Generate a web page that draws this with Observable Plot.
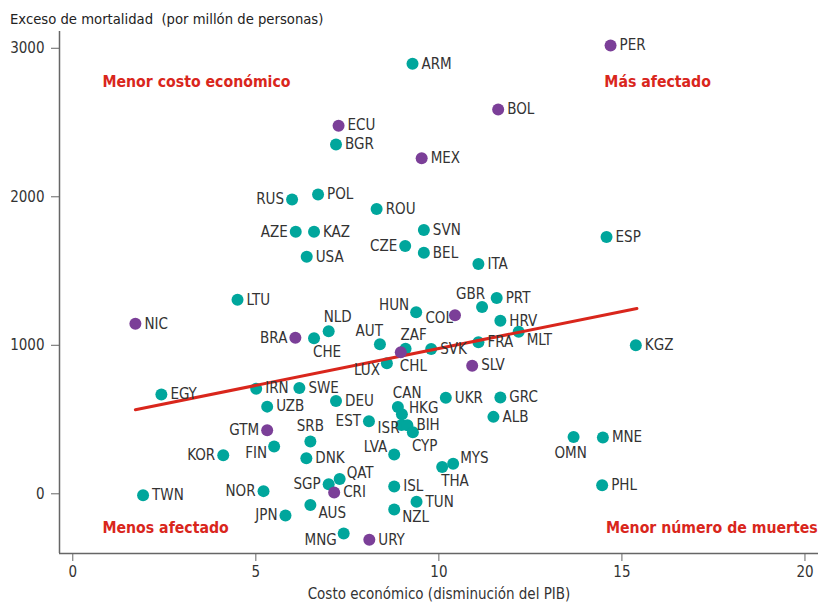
<!DOCTYPE html>
<html>
<head>
<meta charset="utf-8">
<script src="https://cdn.jsdelivr.net/npm/d3@7"></script>
<script src="https://cdn.jsdelivr.net/npm/@observablehq/plot@0.6"></script>
<style>
  html, body { margin: 0; padding: 0; background: #fff; }
  #title { height: 30px; box-sizing: border-box; padding: 11px 0 0 10px; line-height: 15px;
           font-family: "DejaVu Sans Condensed", "DejaVu Sans", sans-serif; font-size: 14.7px; color: #222; white-space: pre; }
</style>
</head>
<body>
<div id="title">Exceso de mortalidad  (por millón de personas)</div>
<div id="chart"></div>
<script>
const FONT = '"DejaVu Sans Condensed", "DejaVu Sans", sans-serif';

// Country codes
const codes = ["PER","ARM","BOL","ECU","BGR","MEX","POL","RUS","ROU","SVN","AZE","KAZ","ESP","CZE","BEL","USA","ITA","PRT","LTU","GBR","HUN","COL","HRV","NIC","NLD","MLT","BRA","CHE","FRA","AUT","KGZ","ZAF","SVK","CHL","LUX","SLV","SWE","IRN","EGY","GRC","UKR","DEU","UZB","CAN","HKG","ALB","EST","ISR","BIH","GTM","CYP","OMN","MNE","SRB","FIN","LVA","KOR","DNK","MYS","THA","QAT","SGP","PHL","ISL","NOR","CRI","TWN","TUN","AUS","NZL","JPN","MNG","URY"];
// Economic cost (GDP decline)
const costo = [14.69,9.28,11.62,7.26,7.19,9.53,6.70,5.99,8.30,9.59,6.09,6.59,14.58,9.08,9.59,6.39,11.08,11.58,4.50,11.18,9.38,10.44,11.68,1.71,6.99,12.18,6.08,6.59,11.08,8.39,15.38,9.09,9.79,8.96,8.58,10.91,6.19,5.01,2.42,11.68,10.19,7.19,5.31,8.88,8.99,11.49,8.09,8.98,9.14,5.31,9.29,13.68,14.48,6.49,5.50,8.78,4.11,6.38,10.39,10.09,7.29,6.99,14.46,8.78,5.21,7.14,1.92,9.39,6.49,8.78,5.81,7.40,8.10];
// Excess mortality per million
const exceso = [3019,2896,2587,2479,2352,2260,2015,1982,1917,1777,1764,1764,1730,1668,1623,1596,1547,1318,1307,1258,1222,1202,1165,1145,1094,1091,1051,1047,1020,1007,1000,977,975,953,879,863,713,708,668,648,646,625,587,585,536,518,488,464,462,428,415,383,379,352,318,264,260,240,202,181,99,65,58,49,18,8,-9,-54,-76,-106,-146,-267,-309];
// Group: Latin America (purple) vs others (teal)
const latam = ["PER","BOL","ECU","MEX","COL","NIC","BRA","CHL","SLV","GTM","CRI","URY"];
// Label placement code per country
const labelPlace = ["r","r","r","r","r","r","r","l","r","r","l","r","r","l","r","r","r","r","r","te","tl","lc","r","r","ts","br","l","bs","r","te","r","ts","r","bs","bl","r","r","r","r","r","r","r","r","ts","tr","r","l","lc","r","l","bs","bm","r","tm","bl","tl","l","r","tr","bs","tr","l","r","r","l","r","r","r","br","br","l","bl","r"];

// Trend line endpoints
const trendX = [1.71, 15.41];
const trendY = [566, 1248];

// Corner annotations
const annText = ["Menor costo económico","Más afectado","Menos afectado","Menor número de muertes"];
const annX = [0.81, 14.52, 0.81, 20.35];
const annY = [2776, 2776, -227, -227];
const annAnchor = ["start","start","start","end"];

const xTicks = [0,5,10,15,20];
const yTicks = [0,1000,2000,3000];
const xDomain = [-0.363, 20.37];
const yDomain = [-402, 3113];

const TEAL = "#00a69c", PURPLE = "#7b3f98", RED = "#d9261c", TXT = "#333";

const data = codes.map((c, i) => ({code: c, x: costo[i], y: exceso[i], grupo: latam.includes(c) ? "latam" : "otro", pos: labelPlace[i]}));
const trend = trendX.map((x, i) => ({x, y: trendY[i]}));
const ann = annText.map((t, i) => ({t, x: annX[i], y: annY[i], a: annAnchor[i]}));

const placements = {
  r:  {anchor: "start",  dx: 9,  dy: 0},
  l:  {anchor: "end",    dx: -8, dy: 0},
  lc: {anchor: "end",    dx: -2, dy: 3},
  ts: {anchor: "start",  dx: -5, dy: -14},
  tm: {anchor: "middle", dx: 0,  dy: -15},
  te: {anchor: "end",    dx: 3,  dy: -13},
  tl: {anchor: "end",    dx: -7, dy: -7},
  tr: {anchor: "start",  dx: 7,  dy: -6},
  br: {anchor: "start",  dx: 8,  dy: 8},
  bl: {anchor: "end",    dx: -7, dy: 7},
  bs: {anchor: "start",  dx: -1, dy: 14},
  bm: {anchor: "middle", dx: -3, dy: 16}
};

const labelMarks = Object.entries(placements).map(([k, p]) =>
  Plot.text(data.filter(d => d.pos === k), {x: "x", y: "y", text: "code", textAnchor: p.anchor, dx: p.dx, dy: p.dy, fill: TXT, fontSize: 15})
);

const chart = Plot.plot({
  width: 818,
  height: 581,
  marginLeft: 59,
  marginRight: 0,
  marginTop: 1,
  marginBottom: 58,
  style: {fontFamily: FONT, fontSize: "15px", color: TXT, background: "white", overflow: "visible"},
  x: {domain: xDomain},
  y: {domain: yDomain},
  color: {domain: ["otro","latam"], range: [TEAL, PURPLE]},
  marks: [
    Plot.axisX({ticks: xTicks, tickSize: 8, tickPadding: 5, label: null, stroke: "#666", fontSize: 15, color: TXT, tickFormat: d3.format("d")}),
    Plot.axisY({ticks: yTicks, tickSize: 8, tickPadding: 7, label: null, stroke: "#666", fontSize: 15, color: TXT, tickFormat: d3.format("d")}),
    Plot.ruleX([xDomain[0]], {stroke: "#666", strokeWidth: 1.5}),
    Plot.ruleY([yDomain[0]], {stroke: "#666", strokeWidth: 1.5}),
    Plot.dot(data.filter(d => d.grupo === "otro"), {x: "x", y: "y", r: 6, fill: "grupo", stroke: "none"}),
    Plot.line(trend, {x: "x", y: "y", stroke: RED, strokeWidth: 3}),
    Plot.dot(data.filter(d => d.grupo === "latam"), {x: "x", y: "y", r: 6, fill: "grupo", stroke: "none"}),
    ...labelMarks,
    Plot.text(ann.filter(d => d.a === "start"), {x: "x", y: "y", text: "t", textAnchor: "start", fill: RED, fontSize: 15.7, fontWeight: "bold"}),
    Plot.text(ann.filter(d => d.a === "end"), {x: "x", y: "y", text: "t", textAnchor: "end", fill: RED, fontSize: 15.7, fontWeight: "bold"}),
    Plot.text(["Costo económico (disminución del PIB)"], {frameAnchor: "bottom", dy: 45, text: d => d, fill: TXT, fontSize: 15})
  ]
});
document.getElementById("chart").appendChild(chart);
</script>
</body>
</html>
